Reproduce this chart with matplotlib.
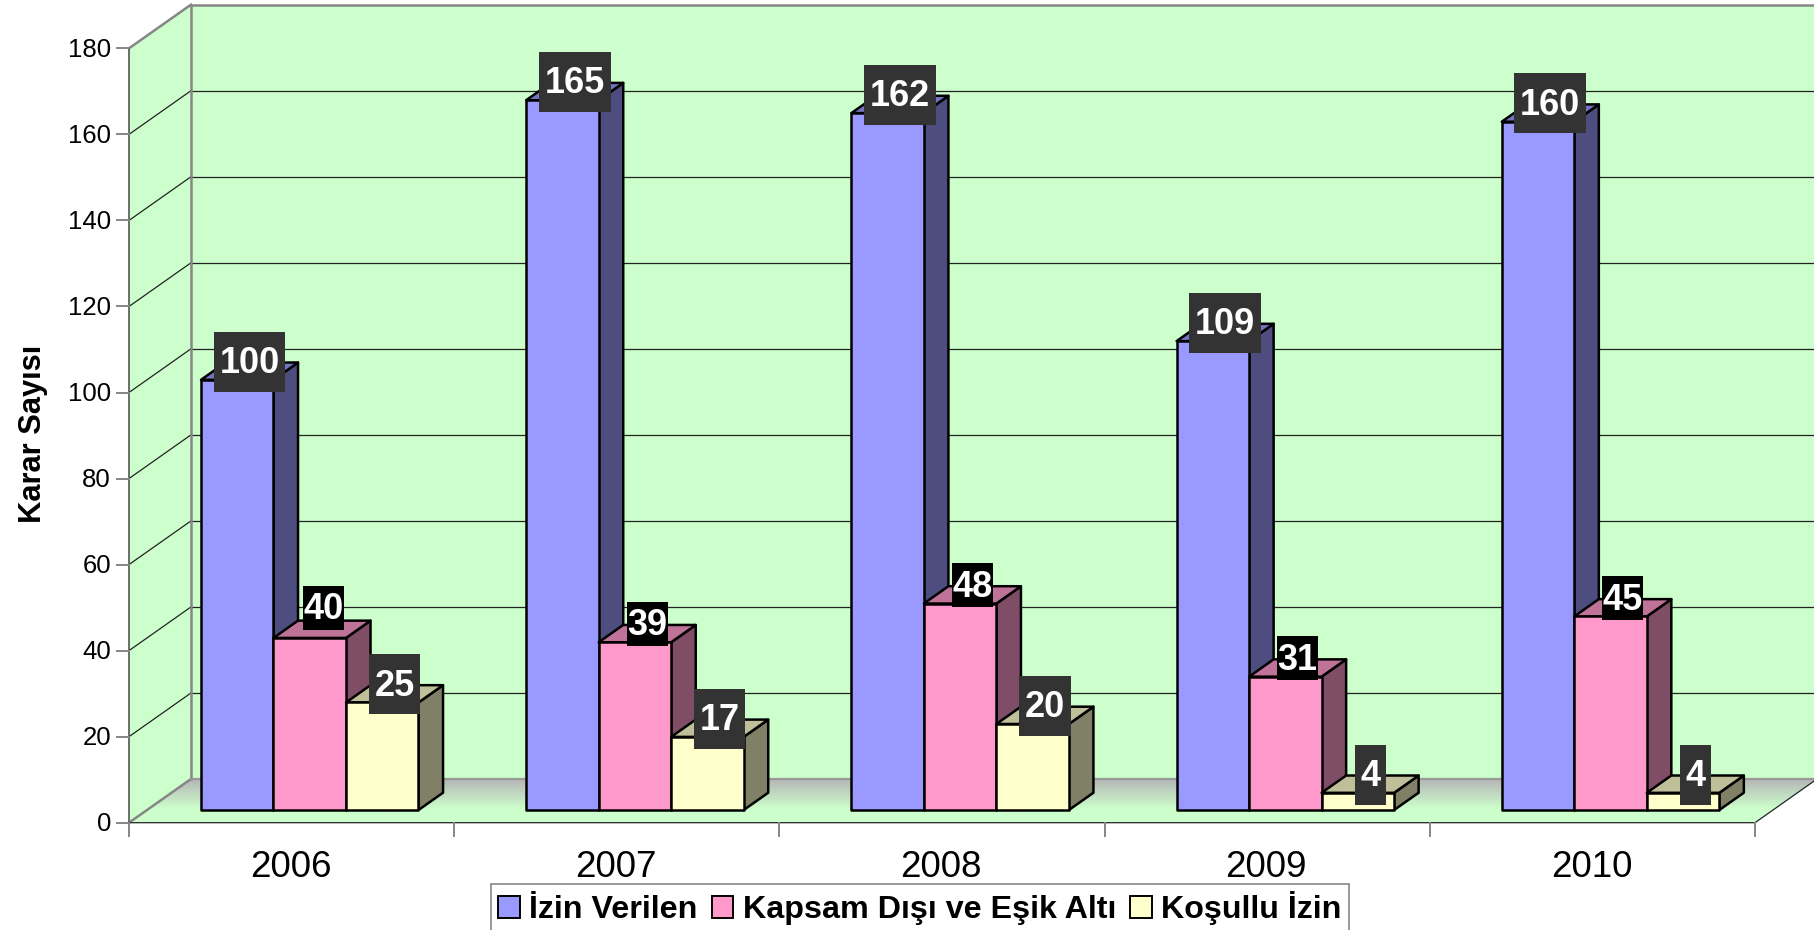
import numpy as np
import matplotlib
matplotlib.use("Agg")
import matplotlib.pyplot as plt
from matplotlib.patches import Polygon, Rectangle

plt.rcParams['font.family'] = ['Liberation Sans', 'DejaVu Sans']

years = ["2006", "2007", "2008", "2009", "2010"]
izin_verilen = [100, 165, 162, 109, 160]
kapsam_disi = [40, 39, 48, 31, 45]
kosullu_izin = [25, 17, 20, 4, 4]
series_names = ["İzin Verilen", "Kapsam Dışı ve Eşik Altı", "Koşullu İzin"]
y_ticks = list(range(0, 181, 20))

front_cols = ["#9999FF", "#FF99CC", "#FFFFCC"]
top_cols = ["#7373BF", "#BF7399", "#BFBF99"]
side_cols = ["#4D4D80", "#804D66", "#808066"]
label_cols = ["#333333", "#000000", "#333333"]
wall = "#CCFFCC"

W, H = 1814, 930
# pixels per category and per unit of value on the front plane
PX_CAT = 325.2
PX_VAL = 4.302
X0, Y0 = 129, 822.7
# depth of the chart box
DX = 62 / PX_CAT
DY = 43.7 / PX_VAL
BAR_D0, BAR_D1 = 0.29, 0.686
BAR_W = 72.5 / PX_CAT
BAR_START = 54 / PX_CAT


def proj(x, y, d=0.0):
    return (x + d * DX, y + d * DY)


fig = plt.figure(figsize=(W / 100, H / 100), dpi=100, facecolor="w")
ax = fig.add_axes([0, 0, 1, 1])
ax.set_xlim(-X0 / PX_CAT, (W - X0) / PX_CAT)
ax.set_ylim((Y0 - H) / PX_VAL, Y0 / PX_VAL)
ax.axis("off")

n = len(years)
ymax = y_ticks[-1]

# walls
ax.add_patch(Polygon([proj(0, 0), proj(0, ymax), proj(0, ymax, 1), proj(0, 0, 1)],
                     fc=wall, ec="none", zorder=1))
ax.add_patch(Polygon([proj(0, 0, 1), proj(0, ymax, 1), proj(n, ymax, 1), proj(n, 0, 1)],
                     fc=wall, ec="none", zorder=1))

# floor with grey to green fade
floor = Polygon([proj(0, 0), proj(n, 0), proj(n, 0, 1), proj(0, 0, 1)],
                fc="none", ec="none", zorder=3)
ax.add_patch(floor)
c0 = np.array([0xB6, 0xB6, 0xB6]) / 255
c1 = np.array([0xCC, 0xFF, 0xCC]) / 255
t = np.clip(np.linspace(0, 1, 60) / 0.68, 0, 1)[:, None, None]
grad = (c0[None, None, :] * (1 - t) + c1[None, None, :] * t)
im = ax.imshow(grad, extent=(0, n + DX, 0, DY), origin="upper", aspect="auto", zorder=2.5)
im.set_clip_path(floor)
ax.set_xlim(-X0 / PX_CAT, (W - X0) / PX_CAT)
ax.set_ylim((Y0 - H) / PX_VAL, Y0 / PX_VAL)

# gridlines
for v in y_ticks[1:-1]:
    ax.plot(*zip(proj(0, v), proj(0, v, 1)), color="#222222", lw=0.9, zorder=2)
    ax.plot(*zip(proj(0, v, 1), proj(n, v, 1)), color="#222222", lw=0.9, zorder=2)

# box outline
grey = "#868686"
ax.plot(*zip(proj(0, 0, 1), proj(0, ymax, 1), proj(n, ymax, 1)), color=grey, lw=1.8, zorder=3)
ax.plot(*zip(proj(0, ymax), proj(0, ymax, 1)), color=grey, lw=1.8, zorder=3)
ax.plot(*zip(proj(0, 0), proj(0, 0, 1)), color=grey, lw=1.8, zorder=3)
ax.plot(*zip(proj(0, 0, 1), proj(n, 0, 1)), color="#999999", lw=1.6, zorder=3)
ax.plot(*zip(proj(0, 0), proj(0, ymax)), color="#555555", lw=1.2, zorder=3)
ax.plot(*zip(proj(0, 0), proj(n, 0), proj(n, 0, 1)), color="#222222", lw=0.9, zorder=3)

# ticks and tick labels
for v in y_ticks:
    ax.plot([-12 / PX_CAT, 0], [v, v], color=grey, lw=1.4, zorder=3)
    ax.text(-18 / PX_CAT, v - 1.5 / PX_VAL, str(v), ha="right", va="center", fontsize=18.5, color="k")
for i in range(n + 1):
    ax.plot([i, i], [0, -13 / PX_VAL], color=grey, lw=1.4, zorder=3)
for i, yr in enumerate(years):
    ax.text(i + 0.5 - 1 / PX_CAT, -44.5 / PX_VAL, yr, ha="center", va="center", fontsize=26.5, color="k")
ax.text(-96 / PX_CAT, (Y0 - 434) / PX_VAL, "Karar Sayısı", rotation=90, ha="center", va="center",
        fontsize=22.2, fontweight="bold", color="k")

# bars
all_series = [izin_verilen, kapsam_disi, kosullu_izin]
for i in range(n):
    for s, vals in enumerate(all_series):
        v = vals[i]
        x0 = i + BAR_START + s * BAR_W
        x1 = x0 + BAR_W
        z = 5 + i + s * 0.1
        ax.add_patch(Polygon([proj(x1, 0, BAR_D0), proj(x1, v, BAR_D0), proj(x1, v, BAR_D1), proj(x1, 0, BAR_D1)],
                             fc=side_cols[s], ec="k", lw=1.8, joinstyle="round", zorder=z))
        ax.add_patch(Polygon([proj(x0, v, BAR_D0), proj(x1, v, BAR_D0), proj(x1, v, BAR_D1), proj(x0, v, BAR_D1)],
                             fc=top_cols[s], ec="k", lw=1.8, joinstyle="round", zorder=z))
        ax.add_patch(Polygon([proj(x0, 0, BAR_D0), proj(x1, 0, BAR_D0), proj(x1, v, BAR_D0), proj(x0, v, BAR_D0)],
                             fc=front_cols[s], ec="k", lw=1.8, joinstyle="round", zorder=z))

# value labels with dark boxes
for i in range(n):
    for s, vals in enumerate(all_series):
        v = vals[i]
        txt = str(v)
        xc = i + BAR_START + (s + 0.5) * BAR_W + (BAR_D0 + BAR_D1) / 2 * DX
        yc = v + BAR_D1 * DY + 1 / PX_VAL
        if s == 1:
            bw, bh = 20.4 * len(txt), 44
            # the first pink label sits higher than the others
            if i == 0:
                xc += 1.5 / PX_CAT
                yc += 12 / PX_VAL
        else:
            bw, bh = 20.4 * len(txt) + 10.5, 60
        ax.add_patch(Rectangle((xc - bw / 2 / PX_CAT, yc - bh / 2 / PX_VAL), bw / PX_CAT, bh / PX_VAL,
                               fc=label_cols[s], ec="none", zorder=30))
        ax.text(xc, yc + 2 / PX_VAL, txt, color="w", ha="center", va="center_baseline", fontsize=26,
                fontweight="bold", zorder=31)

# legend
handles = [Rectangle((0, 0), 1, 1, fc=c, ec="k", lw=1.4) for c in front_cols]
leg = fig.legend(handles, series_names, ncol=3, loc="center", bbox_to_anchor=(920 / W, 1 - 908.5 / H),
                 prop={"size": 23.2, "weight": "bold"}, frameon=True, fancybox=False, edgecolor=grey,
                 framealpha=1, handlelength=0.66, handleheight=0.66, handletextpad=0.3,
                 columnspacing=0.44, borderpad=0.22, borderaxespad=0)
leg.get_frame().set_linewidth(1.2)
leg.set_zorder(40)

plt.savefig("out.png", dpi=100)
